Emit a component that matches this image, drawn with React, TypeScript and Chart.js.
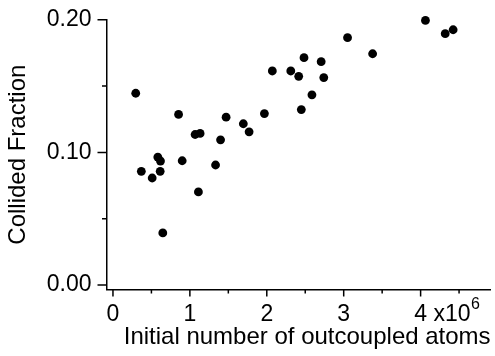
import React, { useEffect, useRef } from "react";
import { Chart, registerables } from "chart.js";

Chart.register(...registerables);

// Data (x in units of 10^6 atoms)
const atomsMillions = [
  0.296, 0.369, 0.51, 0.583, 0.614, 0.618, 0.648, 0.853, 0.9, 1.068, 1.111,
  1.133, 1.334, 1.399, 1.471, 1.695, 1.77, 1.969, 2.072, 2.312, 2.415, 2.449,
  2.484, 2.587, 2.707, 2.741, 3.05, 3.376, 4.063, 4.32, 4.423,
];
const collidedFraction = [
  0.1446, 0.0857, 0.0807, 0.0965, 0.0857, 0.0935, 0.0393, 0.1286, 0.0937,
  0.1135, 0.0702, 0.1143, 0.0905, 0.1095, 0.1266, 0.1216, 0.1155, 0.1293,
  0.1614, 0.1614, 0.1574, 0.1323, 0.1714, 0.1434, 0.1684, 0.1564, 0.1865,
  0.1744, 0.1995, 0.1895, 0.1925,
];

const xMajorTicks = [0, 1, 2, 3, 4];
const xMajorLabels = ["0", "1", "2", "3", "4"];
const xMinorTicks = [0.5, 1.5, 2.5, 3.5, 4.5];
const yMajorTicks = [0, 0.1, 0.2];
const yMajorLabels = ["0.00", "0.10", "0.20"];
const yMinorTicks = [0.05, 0.15];
const xExponentBase = "x10";
const xExponentPower = "6";
const xTitle = "Initial number of outcoupled atoms";
const yTitle = "Collided Fraction";

const FONT = "'Liberation Sans', Arial, Helvetica, sans-serif";
const TICK_SIZE = 23;
const TITLE_SIZE = 24;
const X_TICK_LEN = 7;
const Y_TICK_LEN = 9;
const X_TICK_PAD = 4;
const Y_TICK_PAD = 6;

function labelFor(v: number, ticks: number[], labels: string[]) {
  for (let i = 0; i < ticks.length; i++) {
    if (Math.abs(ticks[i] - v) < 1e-9) return labels[i];
  }
  return "";
}

const axisDecor = {
  id: "axisDecor",
  afterDraw(chart: any) {
    const { ctx, chartArea, scales } = chart;
    const xs = scales.x;
    const ys = scales.y;
    ctx.save();
    ctx.strokeStyle = "#000";
    ctx.lineWidth = 1.5;
    ctx.beginPath();
    yMajorTicks.forEach((v) => {
      const p = ys.getPixelForValue(v);
      ctx.moveTo(chartArea.left - Y_TICK_LEN, p);
      ctx.lineTo(chartArea.left, p);
    });
    yMinorTicks.forEach((v) => {
      const p = ys.getPixelForValue(v);
      ctx.moveTo(chartArea.left - 4.5, p);
      ctx.lineTo(chartArea.left, p);
    });
    xMajorTicks.forEach((v) => {
      const p = xs.getPixelForValue(v);
      ctx.moveTo(p, chartArea.bottom);
      ctx.lineTo(p, chartArea.bottom + X_TICK_LEN);
    });
    xMinorTicks.forEach((v) => {
      const p = xs.getPixelForValue(v);
      ctx.moveTo(p, chartArea.bottom);
      ctx.lineTo(p, chartArea.bottom + 4);
    });
    ctx.stroke();

    // exponent next to last major label
    ctx.fillStyle = "#000";
    ctx.font = `${TICK_SIZE}px ${FONT}`;
    ctx.textAlign = "left";
    ctx.textBaseline = "middle";
    const lastVal = xMajorTicks[xMajorTicks.length - 1];
    const lastLabel = xMajorLabels[xMajorLabels.length - 1];
    const px = xs.getPixelForValue(lastVal);
    const half = ctx.measureText(lastLabel).width / 2;
    const space = ctx.measureText(" ").width;
    const yMid = chartArea.bottom + X_TICK_LEN + X_TICK_PAD + (TICK_SIZE * 1.2) / 2;
    const startX = px + half + space;
    ctx.fillText(xExponentBase, startX, yMid);
    const wBase = ctx.measureText(xExponentBase).width;
    ctx.font = `${Math.round(TICK_SIZE * 0.7)}px ${FONT}`;
    ctx.fillText(xExponentPower, startX + wBase + 0.5, yMid - TICK_SIZE * 0.42);
    ctx.restore();
  },
};

export default function App() {
  const canvasRef = useRef<HTMLCanvasElement | null>(null);

  useEffect(() => {
    document.body.style.margin = "0";
    const canvas = canvasRef.current;
    if (!canvas) return;
    const points = atomsMillions.map((x, i) => ({ x, y: collidedFraction[i] }));
    const chart = new Chart(canvas, {
      type: "scatter",
      data: {
        datasets: [
          {
            data: points,
            backgroundColor: "#000",
            borderColor: "#000",
            borderWidth: 0,
            pointRadius: 4.4,
            pointHoverRadius: 4.4,
            clip: false,
          },
        ],
      },
      options: {
        responsive: false,
        animation: false,
        devicePixelRatio: 1,
        layout: { padding: { top: 19, right: 0, bottom: 0, left: 0 } },
        plugins: {
          legend: { display: false },
          tooltip: { enabled: false },
        },
        scales: {
          x: {
            type: "linear",
            min: -0.084,
            max: 4.91,
            afterBuildTicks: (s: any) => {
              s.ticks = [...xMajorTicks, ...xMinorTicks]
                .sort((a, b) => a - b)
                .map((v) => ({ value: v }));
            },
            afterFit: (s: any) => {
              s.height = 66.5;
            },
            grid: {
              display: true,
              drawOnChartArea: false,
              drawTicks: true,
              tickLength: X_TICK_LEN,
              tickColor: "rgba(0,0,0,0)",
            },
            border: { display: true, color: "#000", width: 1.5 },
            ticks: {
              autoSkip: false,
              maxRotation: 0,
              padding: X_TICK_PAD,
              color: "#000",
              font: { family: FONT, size: TICK_SIZE },
              callback: (v: any) => labelFor(Number(v), xMajorTicks, xMajorLabels),
            },
            title: {
              display: true,
              text: xTitle,
              align: "end",
              color: "#000",
              font: { family: FONT, size: TITLE_SIZE },
              padding: { top: 0, bottom: 4 },
            },
          },
          y: {
            type: "linear",
            min: -0.0034,
            max: 0.2,
            afterBuildTicks: (s: any) => {
              s.ticks = [...yMajorTicks, ...yMinorTicks]
                .sort((a, b) => a - b)
                .map((v) => ({ value: v }));
            },
            afterFit: (s: any) => {
              s.width = 106.5;
            },
            grid: {
              display: true,
              drawOnChartArea: false,
              drawTicks: true,
              tickLength: Y_TICK_LEN,
              tickColor: "rgba(0,0,0,0)",
            },
            border: { display: true, color: "#000", width: 1.5 },
            ticks: {
              autoSkip: false,
              padding: Y_TICK_PAD,
              color: "#000",
              font: { family: FONT, size: TICK_SIZE },
              callback: (v: any) => labelFor(Number(v), yMajorTicks, yMajorLabels),
            },
            title: {
              display: true,
              text: yTitle,
              color: "#000",
              font: { family: FONT, size: TITLE_SIZE },
              padding: { top: 4, bottom: 0 },
            },
          },
        },
      },
      plugins: [axisDecor],
    });
    return () => chart.destroy();
  }, []);

  return (
    <div style={{ position: "fixed", left: 0, top: 0, width: 495, height: 356 }}>
      <canvas ref={canvasRef} width={495} height={356} style={{ width: 495, height: 356, display: "block" }} />
    </div>
  );
}
